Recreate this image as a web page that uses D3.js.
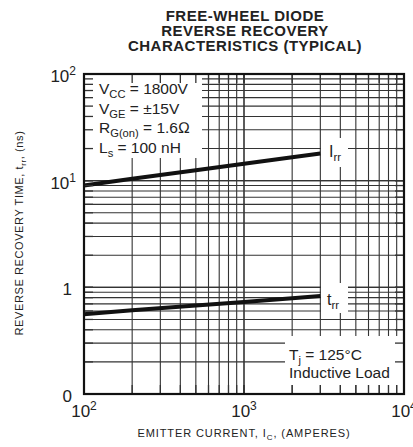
<!DOCTYPE html>
<html><head><meta charset="utf-8">
<script src="https://cdn.jsdelivr.net/npm/d3@7"></script>
<style>
body{margin:0;background:#fff;}
text{font-family:"Liberation Sans",Arial,Helvetica,sans-serif;fill:#222;}
</style></head>
<body><svg id="c" width="413" height="447"></svg>
<script>
// ---- data ----
const titleLines = ["FREE-WHEEL DIODE", "REVERSE RECOVERY", "CHARACTERISTICS (TYPICAL)"];
const currentA = [100, 200, 500, 1000, 2000, 3000];
const irrValues = [9.0, 10.4, 12.5, 14.4, 16.6, 18.0];
const trrValues = [0.56, 0.61, 0.675, 0.73, 0.79, 0.83];
const xTickValues = [100, 1000, 10000];
const xTickLabels = [["10", "2"], ["10", "3"], ["10", "4"]];
const yTickValues = [0.1, 1, 10, 100];
const yTickLabels = [["0", ""], ["1", ""], ["10", "1"], ["10", "2"]];
const conditionLines = [["V", "CC", " = 1800V"], ["V", "GE", " = \u00b115V"], ["R", "G(on)", " = 1.6\u2126"], ["L", "s", " = 100 nH"]];
const noteLines = [["T", "j", " = 125\u00b0C"], ["Inductive Load", "", ""]];

// ---- layout ----
const svg = d3.select("#c");
const L = 84, R = 404, T = 74, B = 394;
const x = d3.scaleLog().domain([100, 10000]).range([L, R]);
const y = d3.scaleLog().domain([0.1, 100]).range([B, T]);

// grid values
const xGrid = [], yGrid = [];
[100, 1000].forEach(d => { for (let k = 1; k <= 10; k++) xGrid.push(d * k); });
[0.1, 1, 10].forEach(d => { for (let k = 1; k <= 10; k++) yGrid.push(+(d * k).toPrecision(3)); });

const g = svg.append("g");
g.selectAll(".vg").data(xGrid).join("line")
  .attr("x1", d => x(d)).attr("x2", d => x(d)).attr("y1", T).attr("y2", B)
  .attr("stroke", "#333").attr("stroke-width", 1.1);
g.selectAll(".hg").data(yGrid).join("line")
  .attr("y1", d => y(d)).attr("y2", d => y(d)).attr("x1", L).attr("x2", R)
  .attr("stroke", "#333").attr("stroke-width", 1.1);

// curves
const line = d3.line().x((d, i) => x(currentA[i])).y(d => y(d));
[irrValues, trrValues].forEach(vals => {
  g.append("path").attr("d", line(vals)).attr("fill", "none")
    .attr("stroke", "#111").attr("stroke-width", 4).attr("stroke-linecap", "butt");
});

// white boxes
const boxes = [[L + 1, T + 1, 117, 83], [321, 138, 27, 29], [321, 283, 27, 30], [285, 336, R - 286, 49]];
g.selectAll(".box").data(boxes).join("rect")
  .attr("x", d => d[0]).attr("y", d => d[1]).attr("width", d => d[2]).attr("height", d => d[3])
  .attr("fill", "#fff");

// ticks inside on all sides
const tl = 9;
const tk = svg.append("g").attr("stroke", "#333").attr("stroke-width", 1.3);
xGrid.forEach(d => {
  tk.append("line").attr("x1", x(d)).attr("x2", x(d)).attr("y1", B).attr("y2", B - tl);
  tk.append("line").attr("x1", x(d)).attr("x2", x(d)).attr("y1", T).attr("y2", T + tl);
});
yGrid.forEach(d => {
  tk.append("line").attr("y1", y(d)).attr("y2", y(d)).attr("x1", L).attr("x2", L + tl);
  tk.append("line").attr("y1", y(d)).attr("y2", y(d)).attr("x1", R).attr("x2", R - tl);
});

// border
svg.append("rect").attr("x", L).attr("y", T).attr("width", R - L).attr("height", B - T)
  .attr("fill", "none").attr("stroke", "#111").attr("stroke-width", 2.2);

// title
svg.selectAll(".title").data(titleLines).join("text")
  .attr("x", 245).attr("y", (d, i) => 21 + i * 15)
  .attr("text-anchor", "middle").attr("font-weight", "bold").attr("font-size", 15)
  .attr("letter-spacing", 0.5).text(d => d);

// y tick labels
yTickLabels.forEach((lab, i) => {
  const t = svg.append("text").attr("x", lab[1] ? 76 : 72).attr("y", y(yTickValues[i]) + 8)
    .attr("text-anchor", "end").attr("font-size", 17);
  t.append("tspan").text(lab[0]);
  if (lab[1]) t.append("tspan").attr("font-size", 12).attr("dy", -7).text(lab[1]);
});
// x tick labels
xTickLabels.forEach((lab, i) => {
  const t = svg.append("text").attr("x", x(xTickValues[i])).attr("y", 417)
    .attr("text-anchor", "middle").attr("font-size", 17);
  t.append("tspan").text(lab[0]);
  t.append("tspan").attr("font-size", 12).attr("dy", -7).text(lab[1]);
});

// axis titles
const xt = svg.append("text").attr("x", 244).attr("y", 437).attr("text-anchor", "middle")
  .attr("font-size", 11).attr("letter-spacing", 0.9);
xt.append("tspan").text("EMITTER CURRENT, I");
xt.append("tspan").attr("font-size", 8).attr("dy", 3).text("C");
xt.append("tspan").attr("dy", -3).text(", (AMPERES)");

const yt = svg.append("text").attr("transform", "translate(23,233) rotate(-90)")
  .attr("text-anchor", "middle").attr("font-size", 11).attr("letter-spacing", 0.6);
yt.append("tspan").text("REVERSE RECOVERY TIME, t");
yt.append("tspan").attr("font-size", 8).attr("dy", 3).text("rr");
yt.append("tspan").attr("dy", -3).text(", (ns)");

// condition text
function richLine(parent, xp, yp, parts, fs) {
  const t = parent.append("text").attr("x", xp).attr("y", yp).attr("font-size", fs);
  t.append("tspan").text(parts[0]);
  if (parts[1]) t.append("tspan").attr("font-size", fs * 0.72).attr("dy", 4).text(parts[1]);
  if (parts[2]) t.append("tspan").attr("dy", parts[1] ? -4 : 0).text(parts[2]);
  return t;
}
conditionLines.forEach((p, i) => richLine(svg, 99, 94 + i * 19.5, p, 15.5));
noteLines.forEach((p, i) => richLine(svg, 289, 360 + i * 18, p, 15.5));

// curve labels
richLine(svg, 329, 157, ["I", "rr", ""], 16);
richLine(svg, 327, 305, ["t", "rr", ""], 16);
</script></body></html>
